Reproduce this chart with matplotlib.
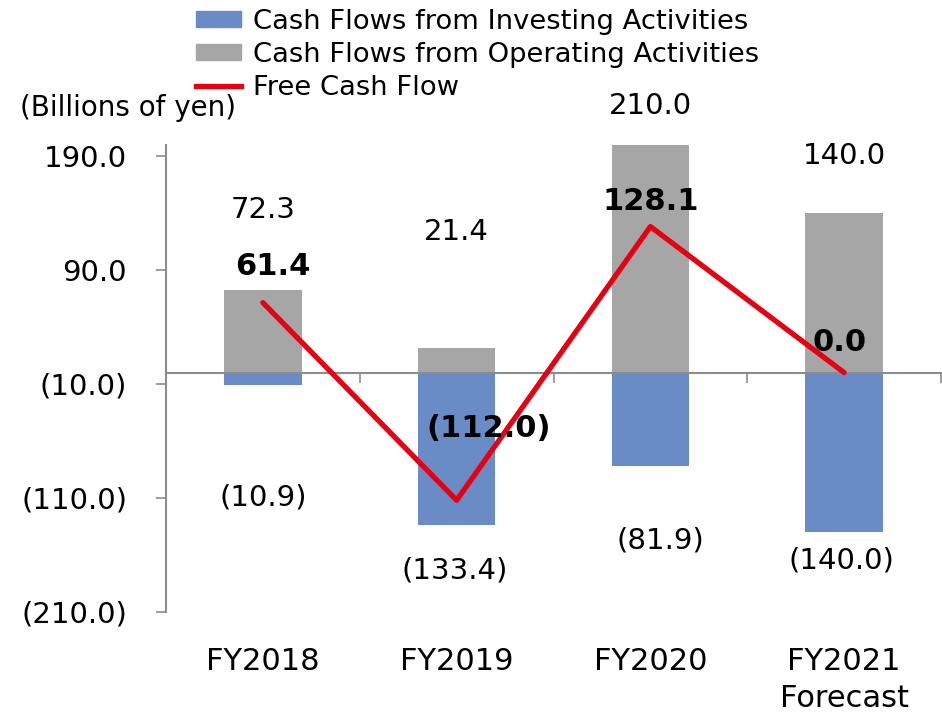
import numpy as np
import matplotlib
matplotlib.use("Agg")
from matplotlib import pyplot as plt
from matplotlib.patches import Patch
from matplotlib.lines import Line2D
import matplotlib.transforms as mtransforms

# data (billions of yen)
years = ["FY2018", "FY2019", "FY2020", "FY2021\nForecast"]
operating = [72.3, 21.4, 210.0, 140.0]
investing = [-10.9, -133.4, -81.9, -140.0]
fcf = [61.4, -112.0, 128.1, 0.0]
yticks = [190, 90, -10, -110, -210]

# where the value labels sit (as in the original slide)
op_lab_y = [143, 123.5, 234, 190]
inv_lab_dx = [0.0, -0.01, 0.05, -0.015]
inv_lab_y = [-110, -174, -147.5, -165]
fcf_lab_dx = [0.05, 0.167, 0.0, -0.023]
fcf_lab_y = [93, -49, 150, 26]

BLUE = "#6a8cc6"
GREY = "#a6a6a6"
RED = "#e60012"
AXC = "#8c8c8c"
FS = 21


def fmt(v):
    if v < 0:
        return "({:.1f})".format(-v)
    return "{:.1f}".format(v)


fig = plt.figure(figsize=(9.42, 7.13), dpi=100)
ax = fig.add_axes([166 / 942, 1 - 612 / 713, (941 - 166) / 942, (612 - 144.6) / 713])

x = np.arange(len(years))
ax.bar(x, operating, width=0.4, color=GREY, zorder=2)
ax.bar(x, investing, width=0.4, color=BLUE, zorder=2)
ax.plot(x, fcf, color=RED, lw=3.8, zorder=4, solid_capstyle="round")

ax.set_xlim(-0.5, 3.5)
ax.set_ylim(-210, 200)

for s in ["top", "right"]:
    ax.spines[s].set_visible(False)
ax.spines["bottom"].set_position(("data", 0))
for s in ["left", "bottom"]:
    ax.spines[s].set_color(AXC)
    ax.spines[s].set_linewidth(1.5)
    ax.spines[s].set_zorder(3)

ax.set_yticks(yticks)
ax.set_yticklabels([fmt(v) for v in yticks], fontsize=FS)
ax.tick_params(axis="y", length=7, width=1.2, color=AXC, pad=21)
ax.set_xticks([0.5, 1.5, 2.5, 3.5])
ax.set_xticklabels([])
ax.tick_params(axis="x", length=7, width=1.2, color=AXC)

for i in range(len(years)):
    ax.text(x[i], op_lab_y[i], fmt(operating[i]), ha="center", va="center",
            fontsize=FS, clip_on=False)
    ax.text(x[i] + inv_lab_dx[i], inv_lab_y[i], fmt(investing[i]), ha="center",
            va="center", fontsize=FS)
    ax.text(x[i] + fcf_lab_dx[i], fcf_lab_y[i], fmt(fcf[i]), ha="center",
            va="center", fontsize=22, fontweight="bold", zorder=5)

trans = mtransforms.blended_transform_factory(ax.transData, fig.transFigure)
for i in range(len(years)):
    ax.text(x[i], 1 - 647 / 713, years[i], ha="center", va="top", fontsize=22,
            transform=trans, linespacing=1.36)

fig.text(20 / 942, 1 - 108 / 713, "(Billions of yen)", ha="left", va="center", fontsize=20)

handles = [Patch(color=BLUE), Patch(color=GREY), Line2D([], [], color=RED, lw=3.8)]
labels = ["Cash Flows from Investing Activities",
          "Cash Flows from Operating Activities",
          "Free Cash Flow"]
fig.legend(handles, labels, loc="upper left", bbox_to_anchor=(196 / 942, 0.988),
           frameon=False, fontsize=19.7, borderpad=0, borderaxespad=0,
           handlelength=1.65, handleheight=0.55, handletextpad=0.45, labelspacing=0.26)

fig.savefig("out.png", dpi=100)
